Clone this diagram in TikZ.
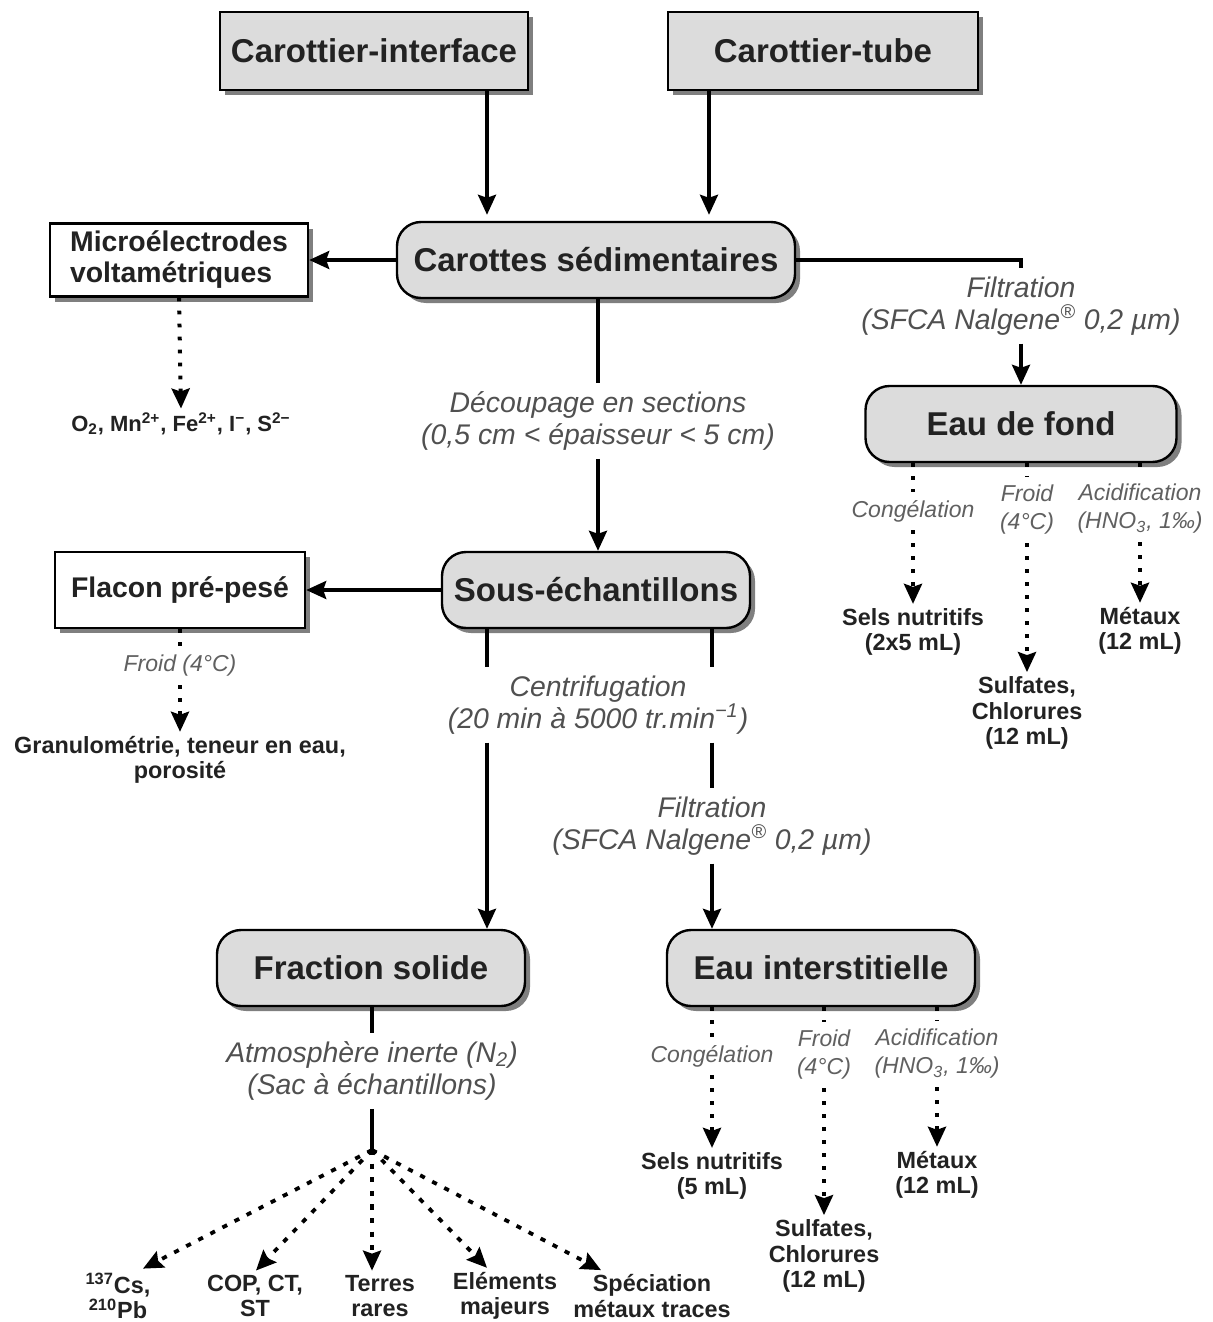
\documentclass[tikz,border=0pt]{standalone}
\usepackage{fontspec}
\setmainfont{Liberation Sans}
\usetikzlibrary{arrows.meta,shadows,calc}
\definecolor{boxgray}{HTML}{DCDCDC}
\definecolor{labgray}{HTML}{505050}
\definecolor{smgray}{HTML}{606060}
\definecolor{txt}{HTML}{222222}
\begin{document}
\begin{tikzpicture}[x=0.5pt,y=-0.5pt,
  shad/.style={drop shadow={shadow xshift=2.5pt,shadow yshift=-2.5pt,opacity=0.5,fill=black}},
  topbox/.style={draw,line width=1.2pt,fill=boxgray,shad,minimum height=39pt,text=txt,font=\fontsize{16.5}{19}\selectfont\bfseries},
  mainbox/.style={draw,line width=1.2pt,fill=boxgray,shad,rounded corners=12pt,minimum width=154pt,minimum height=38pt,text=txt,font=\fontsize{16.5}{19}\selectfont\bfseries},
  whitebox/.style={draw,line width=1.2pt,fill=white,shad,text=txt,font=\fontsize{14.2}{15.5}\selectfont\bfseries},
  biglab/.style={font=\fontsize{14.2}{16}\selectfont\itshape,text=labgray,align=center,inner sep=4pt},
  smlab/.style={font=\fontsize{11.5}{14}\selectfont\itshape,text=smgray,align=center,inner sep=4pt},
  res/.style={font=\fontsize{11.7}{12.8}\selectfont\bfseries,text=txt,align=center,inner sep=2pt},
  ln/.style={line width=1.7pt},
  tip/.style={-{Stealth[length=10pt,width=9pt,inset=1.5pt]}},
  arr/.style={ln,tip},
  dotln/.style={line width=2pt,dash pattern=on 1.8pt off 4.7pt},
  dotarr/.style={dotln,tip},
  fanarr/.style={line width=1.9pt,dash pattern=on 2.6pt off 4.2pt,tip}
]
\useasboundingbox[fill=white] (0,0) rectangle (1213,1322);

% main boxes
\node[topbox,minimum width=154pt] (ci) at (374,51) {Carottier-interface};
\node[topbox,minimum width=155pt] (ct) at (823,51) {Carottier-tube};
\node[mainbox,minimum width=199pt] (car) at (596,260) {Carottes sédimentaires};
\node[mainbox,minimum width=155.5pt] (eaf) at (1021,424) {Eau de fond};
\node[mainbox] (sous) at (596,590) {Sous-échantillons};
\node[mainbox] (fs) at (371,968) {Fraction solide};
\node[mainbox] (ei) at (821,968) {Eau interstitielle};
\node[whitebox,minimum width=129pt,minimum height=36.5pt,align=left] (micro) at (179,260) {Microélectrodes\\voltamétriques};
\node[whitebox,minimum width=125pt,minimum height=38pt] (flacon) at (180,590) {Flacon pré-pesé};

% labels
\node[biglab] (filt1) at (1021,306) {Filtration\\(SFCA Nalgene\textsuperscript{®} 0,2 µm)};
\node[biglab] (dec) at (598,421) {Découpage en sections\\(0,5 cm < épaisseur < 5 cm)};
\node[biglab] (centri) at (598,705) {Centrifugation\\(20 min à 5000 tr.min\textsuperscript{−1})};
\node[biglab] (filt2) at (712,826) {Filtration\\(SFCA Nalgene\textsuperscript{®} 0,2 µm)};
\node[biglab] (atm) at (372,1071) {Atmosphère inerte (N\textsubscript{2})\\(Sac à échantillons)};
\node[smlab] (froid1) at (180,666) {Froid (4°C)};
\node[smlab] (cong1) at (913,511) {Congélation};
\node[smlab] (froid2) at (1027,510) {Froid\\(4°C)};
\node[smlab] (acid1) at (1140,509) {Acidification\\(HNO\textsubscript{3}, 1‰)};
\node[smlab] (cong2) at (712,1056) {Congélation};
\node[smlab] (froid3) at (824,1055) {Froid\\(4°C)};
\node[smlab] (acid2) at (937,1054) {Acidification\\(HNO\textsubscript{3}, 1‰)};

% results
\node[res,font=\fontsize{11}{12}\selectfont\bfseries] (ions) at (181,424) {O\textsubscript{2}, Mn\textsuperscript{2+}, Fe\textsuperscript{2+}, I\textsuperscript{−}, S\textsuperscript{2−}};
\node[res] (granu) at (180,760) {Granulométrie, teneur en eau,\\porosité};
\node[res] (sels1) at (913,632) {Sels nutritifs\\(2x5 mL)};
\node[res] (sulf1) at (1027,713) {Sulfates,\\Chlorures\\(12 mL)};
\node[res] (met1) at (1140,631) {Métaux\\(12 mL)};
\node[res] (sels2) at (712,1176) {Sels nutritifs\\(5 mL)};
\node[res] (sulf2) at (824,1256) {Sulfates,\\Chlorures\\(12 mL)};
\node[res] (met2) at (937,1175) {Métaux\\(12 mL)};
\node[res] (cs) at (118,1296) {\textsuperscript{137}Cs,\\\textsuperscript{210}Pb};
\node[res] (cop) at (255,1296) {COP, CT,\\ST};
\node[res] (terres) at (380,1296) {Terres\\rares};
\node[res] (elem) at (505,1296) {Eléments\\majeurs};
\node[res] (spec) at (652,1296) {Spéciation\\métaux traces};

% connectors
\draw[arr] ($(ci.south)+(113,0)$) -- ($(car.north)+(-109,-6)$);
\draw[arr] ($(ct.south)+(-114,0)$) -- ($(car.north)+(113,-6)$);
\draw[arr] (car.west) -- (micro.east);
\draw[dotarr] (micro.south) -- (ions.north);
\draw[ln] (car.east) -| (filt1.north);
\draw[arr] (filt1.south) -- (eaf.north);
\draw[ln] ($(car.south)+(2,0)$) -- (dec.north);
\draw[arr] (dec.south) -- ($(sous.north)+(2,0)$);
\draw[arr] (sous.west) -- (flacon.east);
\draw[dotln] (flacon.south) -- (froid1.north);
\draw[dotarr] (froid1.south) -- (granu.north);

% eau de fond branches
\draw[dotln] ($(eaf.south)+(-108,0)$) -- (cong1.north);
\draw[dotarr] (cong1.south) -- (sels1.north);
\draw[dotln] ($(eaf.south)+(6,0)$) -- (froid2.north);
\draw[dotarr] (froid2.south) -- (sulf1.north);
\draw[dotln] ($(eaf.south)+(119,0)$) -- (acid1.north);
\draw[dotarr] (acid1.south) -- (met1.north);

% sous-echantillons
\draw[ln] ($(sous.south)+(-109,0)$) -- ($(centri.north)+(-111,0)$);
\draw[ln] ($(sous.south)+(116,0)$) -- ($(centri.north)+(114,0)$);
\draw[arr] ($(centri.south)+(-111,0)$) -- ($(fs.north)+(116,0)$);
\draw[ln] ($(centri.south)+(114,0)$) -- (filt2.north);
\draw[arr] (filt2.south) -- ($(ei.north)+(-109,0)$);

% eau interstitielle branches
\draw[dotln] ($(ei.south)+(-109,0)$) -- (cong2.north);
\draw[dotarr] (cong2.south) -- (sels2.north);
\draw[dotln] ($(ei.south)+(3,0)$) -- (froid3.north);
\draw[dotarr] (froid3.south) -- (sulf2.north);
\draw[dotln] ($(ei.south)+(116,0)$) -- (acid2.north);
\draw[dotarr] (acid2.south) -- (met2.north);

% fraction solide fan
\draw[ln] ($(fs.south)+(1,0)$) -- (atm.north);
\coordinate (hub) at (372,1150);
\draw[ln] (atm.south) -- (hub);
\draw[fanarr] (hub) -- ($(cs.north)+(25,0)$);
\draw[fanarr] (hub) -- ($(cop.north)+(1,0)$);
\draw[fanarr] (hub) -- ($(terres.north)+(-8,0)$);
\draw[fanarr] (hub) -- ($(elem.north)+(-18,0)$);
\draw[fanarr] (hub) -- ($(spec.north)+(-51,0)$);
\end{tikzpicture}
\end{document}
